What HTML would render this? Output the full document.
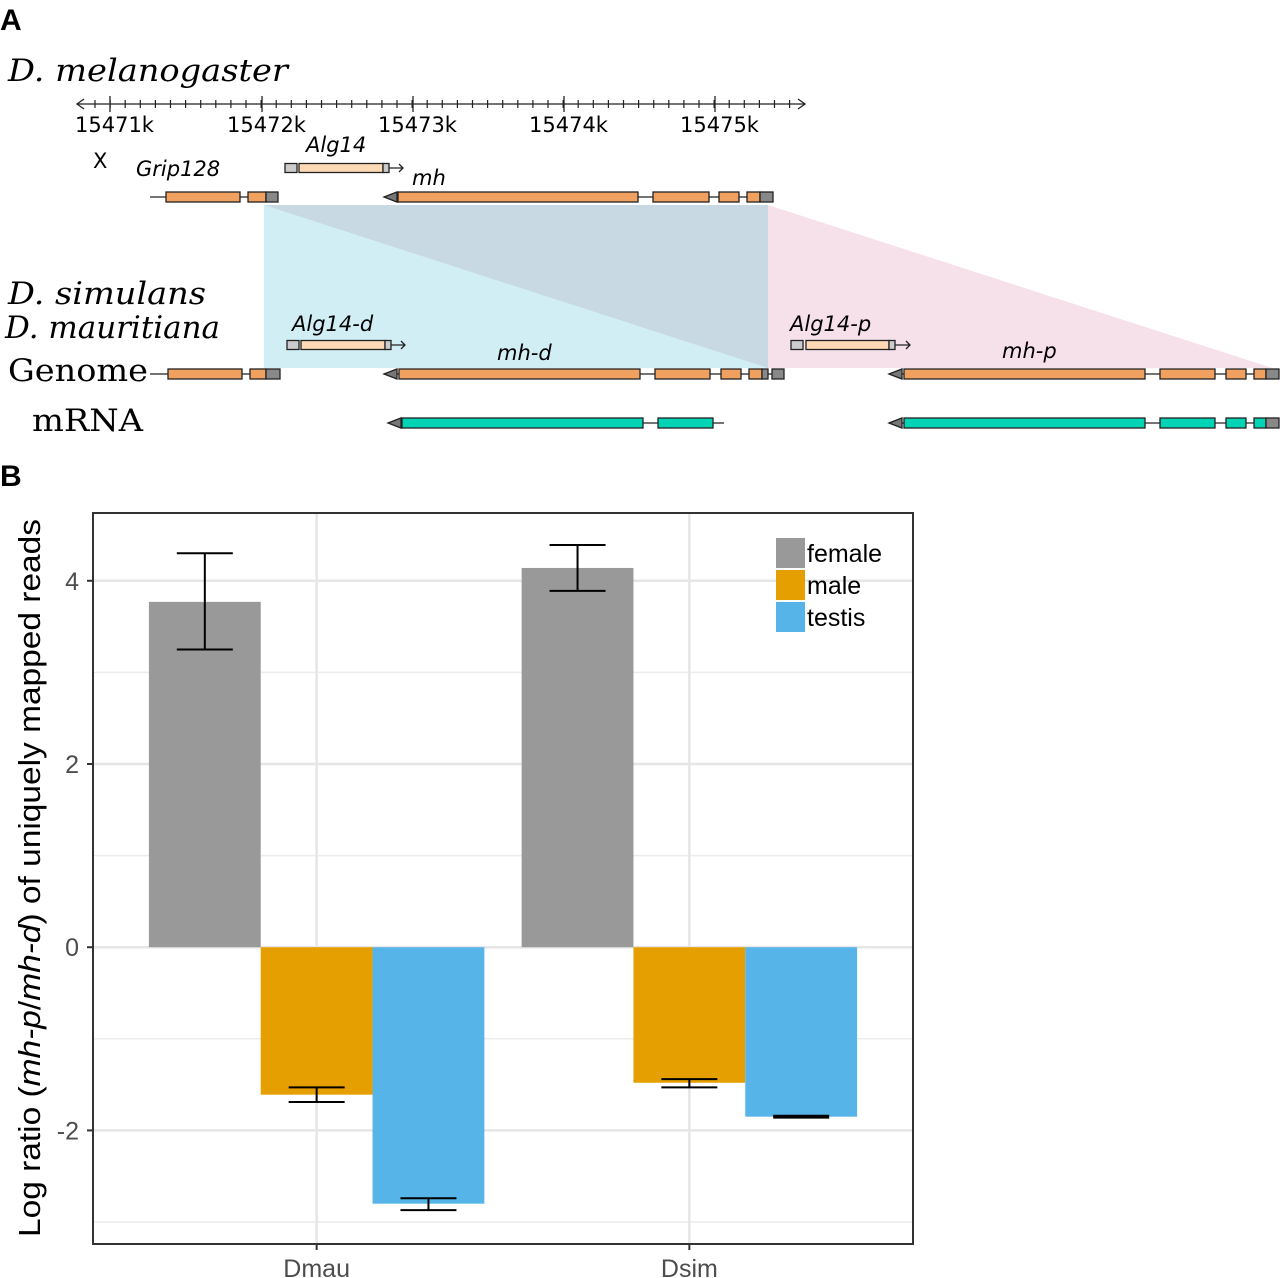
<!DOCTYPE html>
<html><head><meta charset="utf-8"><style>
body{margin:0;background:#fff}
svg{display:block}
</style></head><body>
<svg width="1280" height="1278" xmlns="http://www.w3.org/2000/svg" font-family="Liberation Sans, sans-serif">
<text x="0" y="30" font-size="30" font-weight="bold">A</text>
<text x="0" y="486" font-size="30" font-weight="bold">B</text>
<g id="panelA">
<polygon points="264,205 768,205 768,368 264,368" fill="#d0eef4"/>
<polygon points="264,205 768,205 768,368" fill="#c8d9e3"/>
<polygon points="768,205 1272,368 768,368" fill="#f6e0ea"/>
<g font-family="DejaVu Serif, serif" font-size="31">
<text x="8" y="81" font-style="italic" textLength="280" lengthAdjust="spacingAndGlyphs">D. melanogaster</text>
<text x="8" y="304" font-style="italic" textLength="198" lengthAdjust="spacingAndGlyphs">D. simulans</text>
<text x="5" y="338" font-style="italic" textLength="215" lengthAdjust="spacingAndGlyphs">D. mauritiana</text>
<text x="8" y="381" textLength="140" lengthAdjust="spacingAndGlyphs">Genome</text>
<text x="32" y="431" textLength="111" lengthAdjust="spacingAndGlyphs">mRNA</text>
</g>
<g id="axis"></g>
<g font-family="DejaVu Sans, sans-serif" font-size="21" font-style="italic">
<text x="93" y="168" font-style="normal">X</text>
<text x="136" y="176">Grip128</text>
<text x="306" y="152">Alg14</text>
<text x="412" y="185">mh</text>
<text x="292" y="331">Alg14-d</text>
<text x="497" y="360">mh-d</text>
<text x="790" y="331">Alg14-p</text>
<text x="1002" y="358">mh-p</text>
</g>
<g id="genes" stroke="#222" stroke-width="1.3"></g>
</g>
<g id="panelB"></g>
</svg>
<script>
const NS='http://www.w3.org/2000/svg';
function mk(p,t,a){const e=document.createElementNS(NS,t);for(const k in a)e.setAttribute(k,a[k]);p.appendChild(e);return e;}
const ax=document.getElementById('axis');
mk(ax,'line',{x1:78,y1:104,x2:804,y2:104,stroke:'#222','stroke-width':1.3});
mk(ax,'path',{d:'M84,99 L77,104 L84,109 M798,99 L805,104 L798,109',stroke:'#222',fill:'none','stroke-width':1.3});
for(let i=0;i<48;i++){const x=95+i*15.1;if(x>800)break;mk(ax,'line',{x1:x,y1:100,x2:x,y2:108,stroke:'#222','stroke-width':1.2});}
const majors=[[110,'15471k'],[262,'15472k'],[413,'15473k'],[564,'15474k'],[715,'15475k']];
majors.forEach(m=>{mk(ax,'line',{x1:m[0],y1:96,x2:m[0],y2:112,stroke:'#222','stroke-width':1.3});const t=mk(ax,'text',{x:m[0]-35,y:132,'font-size':21,'font-family':'DejaVu Sans, sans-serif'});t.textContent=m[1];});
const g=document.getElementById('genes');
function line(x1,x2,y){mk(g,'line',{x1,x2,y1:y,y2:y});}
function box(x1,x2,y,c,h){h=h||10;mk(g,'rect',{x:x1,y:y-h/2,width:x2-x1,height:h,fill:c});}
function tri(x,y){mk(g,'polygon',{points:`${x},${y} ${x+13},${y-5} ${x+13},${y+5}`,fill:'#777'});}
function arrow(x1,x2,y){mk(g,'path',{d:`M${x1},${y} L${x2},${y} M${x2-4},${y-4} L${x2},${y} L${x2-4},${y+4}`,fill:'none'});}
const O='#f0a160',G='#888',L='#fdd9b5',T='#00d4b4',LG='#ccc';
line(150,278,197);box(166,240,197,O);box(248,266,197,O);box(266,278,197,G);
line(384,773,197);tri(384,197);box(398,638,197,O);box(653,709,197,O);box(719,739,197,O);box(747,760,197,O);box(760,773,197,G);
box(285,297,168,LG,9);box(299,383,168,L,9);box(383,389,168,LG,9);arrow(389,403,168);
line(150,280,374);box(168,242,374,O);box(250,266,374,O);box(266,280,374,G);
line(384,784,374);tri(384,374);box(399,640,374,O);box(655,710,374,O);box(721,741,374,O);box(749,762,374,O);box(762,768,374,G);box(772,784,374,G);
box(287,299,345,LG,9);box(301,385,345,L,9);box(385,391,345,LG,9);arrow(391,405,345);
box(791,803,345,LG,9);box(806,889,345,L,9);box(889,895,345,LG,9);arrow(895,910,345);
line(889,1279,374);tri(889,374);box(904,1145,374,O);box(1160,1215,374,O);box(1226,1246,374,O);box(1254,1266,374,O);box(1266,1279,374,G);
line(388,724,423);tri(388,423);box(402,643,423,T);box(658,713,423,T);
line(889,1279,423);tri(889,423);box(904,1145,423,T);box(1160,1215,423,T);box(1226,1246,423,T);box(1254,1266,423,T);box(1266,1279,423,G);

// Panel B data
const categories=['Dmau','Dsim'];
const seriesNames=['female','male','testis'];
const seriesColors=['#999999','#e69f00','#56b4e9'];
const femaleVals=[3.77,4.14];
const maleVals=[-1.61,-1.48];
const testisVals=[-2.80,-1.85];
const femaleLo=[3.25,3.89], femaleHi=[4.30,4.39];
const maleLo=[-1.69,-1.53], maleHi=[-1.53,-1.44];
const testisLo=[-2.87,-1.86], testisHi=[-2.74,-1.84];
const yTicks=[-2,0,2,4];
const yMinor=[-3,-1,1,3];

const P={l:93,r:913,t:513,b:1244};
const yMin=-3.24,yMax=4.74;
function ys(v){return P.b-(v-yMin)/(yMax-yMin)*(P.b-P.t);}
const unit=(P.r-P.l)/(categories.length-1+1.2);
function xs(i){return P.l+(i+0.6)*unit;}
const B=document.getElementById('panelB');
const all=[femaleVals,maleVals,testisVals],los=[femaleLo,maleLo,testisLo],his=[femaleHi,maleHi,testisHi];
let e;
yMinor.forEach(v=>{e=mk(B,'line',{x1:P.l,x2:P.r,y1:ys(v),y2:ys(v),stroke:'#ececec','stroke-width':1.5});

});
yTicks.forEach(v=>{e=mk(B,'line',{x1:P.l,x2:P.r,y1:ys(v),y2:ys(v),stroke:'#e6e6e6','stroke-width':2.5});

});
categories.forEach((c,i)=>{e=mk(B,'line',{x1:xs(i),x2:xs(i),y1:P.t,y2:P.b,stroke:'#e6e6e6','stroke-width':2.5});

});
const dodge=unit*0.9, bw=dodge/3;
categories.forEach((c,i)=>{
  all.forEach((s,j)=>{
    const x0=xs(i)-dodge/2+j*bw, v=s[i];
    const y1=Math.min(ys(v),ys(0)), h=Math.abs(ys(v)-ys(0));
    e=mk(B,'rect',{x:x0,y:y1,width:bw,height:h,fill:seriesColors[j]});
    
    
    const cx=x0+bw/2, a=ys(his[j][i]), b=ys(los[j][i]);
    e=mk(B,'path',{d:`M${cx-28},${a} L${cx+28},${a} M${cx},${a} L${cx},${b} M${cx-28},${b} L${cx+28},${b}`,stroke:'#000','stroke-width':2,fill:'none'});
    
    
  });
});
e=mk(B,'rect',{x:P.l,y:P.t,width:P.r-P.l,height:P.b-P.t,fill:'none',stroke:'#333','stroke-width':2});


yTicks.forEach(v=>{
  e=mk(B,'line',{x1:P.l-6,x2:P.l,y1:ys(v),y2:ys(v),stroke:'#333','stroke-width':2});
  
  
  e=mk(B,'text',{x:P.l-14,y:ys(v)+9,'text-anchor':'end','font-size':25,fill:'#4d4d4d'});
  e.textContent=v;
  
  
});
categories.forEach((c,i)=>{
  e=mk(B,'line',{x1:xs(i),x2:xs(i),y1:P.b,y2:P.b+6,stroke:'#333','stroke-width':2});
  
  
  e=mk(B,'text',{x:xs(i),y:P.b+33,'text-anchor':'middle','font-size':25,fill:'#4d4d4d'});
  e.textContent=c;
  
  
});
const yl=mk(B,'text',{transform:`translate(40,878) rotate(-90)`,'text-anchor':'middle','font-size':31,textLength:718,lengthAdjust:'spacingAndGlyphs'});
yl.innerHTML='Log ratio (<tspan font-style="italic">mh-p</tspan>/<tspan font-style="italic">mh-d</tspan>) of uniquely mapped reads';


seriesNames.forEach((n,j)=>{
  e=mk(B,'rect',{x:776,y:538+j*32,width:29,height:30,fill:seriesColors[j]});
  
  
  e=mk(B,'text',{x:807,y:562+j*32,'font-size':25});
  e.textContent=n;
  
  
});
</script>
</body></html>
